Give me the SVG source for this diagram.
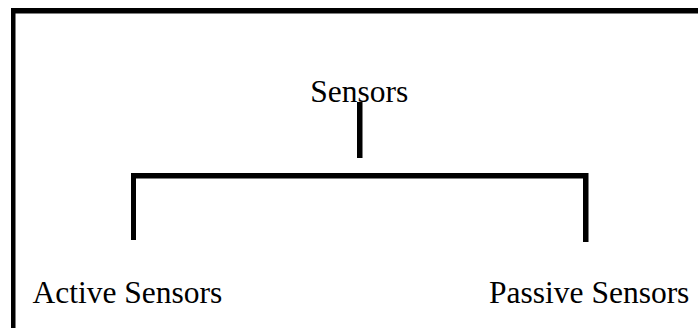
<svg xmlns="http://www.w3.org/2000/svg" width="698" height="328" viewBox="0 0 698 328">
  <style>
    .label { font-family: "Liberation Serif", "Times New Roman", serif; font-size: 31.5px; fill: #000; }
    .bar { fill: #000; }
  </style>
  <rect width="698" height="328" fill="#fff"/>
  <!-- frame: top and left edges -->
  <g id="frame">
    <rect class="bar" x="11" y="8" width="687" height="5.5"/>
    <rect class="bar" x="11" y="8" width="4.5" height="320"/>
  </g>
  <g id="connectors">
    <rect class="bar" x="357" y="102" width="5.5" height="56"/>
    <rect class="bar" x="131" y="173" width="457" height="5.5"/>
    <rect class="bar" x="131" y="173" width="5" height="67"/>
    <rect class="bar" x="583" y="173" width="5.5" height="69"/>
  </g>
  <g id="node-sensors">
    <text class="label" x="359.3" y="102" text-anchor="middle">Sensors</text>
  </g>
  <g id="node-active">
    <text class="label" x="32.5" y="303">Active Sensors</text>
  </g>
  <g id="node-passive">
    <text class="label" x="489" y="303">Passive Sensors</text>
  </g>
</svg>
